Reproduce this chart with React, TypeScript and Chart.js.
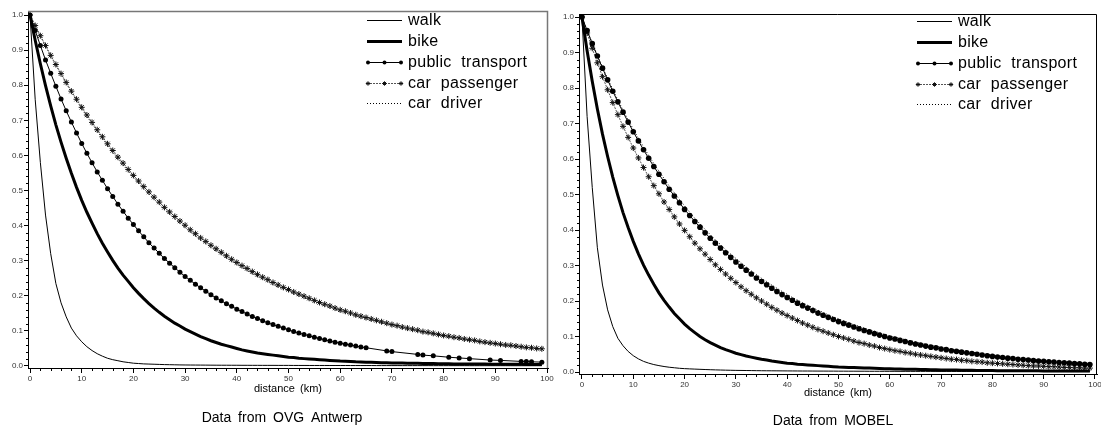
import React, { useEffect, useRef } from "react";
import { Chart, registerables } from "chart.js";

Chart.register(...registerables);

// ---------- data ----------
const KM: number[] = Array.from({ length: 100 }, (_, i) => i); // distance categories 0..99 km

const X_TICKS = [0, 10, 20, 30, 40, 50, 60, 70, 80, 90, 100];
const Y_TICKS = [0, 0.1, 0.2, 0.3, 0.4, 0.5, 0.6, 0.7, 0.8, 0.9, 1.0];

const OVG_WALK = [
  1.000, 0.760, 0.580, 0.430, 0.320, 0.235, 0.180, 0.140, 0.108, 0.086,
  0.069, 0.055, 0.044, 0.035, 0.028, 0.022, 0.018, 0.015, 0.012, 0.010,
  0.008, 0.007, 0.006, 0.0055, 0.005, 0.0045, 0.004, 0.0037, 0.0034, 0.0031,
  0.0029, 0.0028, 0.0027, 0.0026, 0.0025, 0.0024, 0.0023, 0.0022, 0.0022, 0.0021,
  0.0021, 0.0020, 0.0020, 0.0019, 0.0019, 0.0018, 0.0018, 0.0018, 0.0017, 0.0017,
  0.0017, 0.0016, 0.0016, 0.0016, 0.0015, 0.0015, 0.0015, 0.0015, 0.0014, 0.0014,
  0.0014, 0.0014, 0.0013, 0.0013, 0.0013, 0.0013, 0.0013, 0.0012, 0.0012, 0.0012,
  0.0012, 0.0012, 0.0011, 0.0011, 0.0011, 0.0011, 0.0011, 0.0011, 0.0010, 0.0010,
  0.0010, 0.0010, 0.0010, 0.0010, 0.0010, 0.0009, 0.0009, 0.0009, 0.0009, 0.0009,
  0.0009, 0.0009, 0.0009, 0.0008, 0.0008, 0.0008, 0.0008, 0.0008, 0.0008, 0.0008,
];

const OVG_BIKE = [
  1.000, 0.928, 0.861, 0.799, 0.741, 0.687, 0.638, 0.592, 0.549, 0.509,
  0.472, 0.438, 0.407, 0.377, 0.350, 0.325, 0.301, 0.279, 0.259, 0.241,
  0.223, 0.207, 0.192, 0.178, 0.165, 0.153, 0.142, 0.132, 0.122, 0.114,
  0.105, 0.098, 0.091, 0.084, 0.078, 0.072, 0.067, 0.062, 0.058, 0.054,
  0.050, 0.046, 0.043, 0.040, 0.037, 0.035, 0.033, 0.031, 0.029, 0.027,
  0.025, 0.024, 0.022, 0.021, 0.020, 0.019, 0.018, 0.017, 0.016, 0.015,
  0.014, 0.0135, 0.013, 0.012, 0.0115, 0.011, 0.0105, 0.010, 0.0095, 0.009,
  0.0088, 0.0085, 0.0082, 0.008, 0.0077, 0.0075, 0.0072, 0.007, 0.0068, 0.0066,
  0.0064, 0.0062, 0.006, 0.0059, 0.0058, 0.0057, 0.0056, 0.0055, 0.0054, 0.0053,
  0.0052, 0.0051, 0.005, 0.0049, 0.0048, 0.0047, 0.0046, 0.0045, 0.0044, 0.0043,
];

const OVG_PT_KM = [
  0, 1, 2, 3, 4, 5, 6, 7, 8, 9,
  10, 11, 12, 13, 14, 15, 16, 17, 18, 19,
  20, 21, 22, 23, 24, 25, 26, 27, 28, 29,
  30, 31, 32, 33, 34, 35, 36, 37, 38, 39,
  40, 41, 42, 43, 44, 45, 46, 47, 48, 49,
  50, 51, 52, 53, 54, 55, 56, 57, 58, 59,
  60, 61, 62, 63, 64, 65,
  69, 70, 75, 76, 78, 81, 83, 85, 89, 91, 95, 96, 97, 99,
];
const OVG_PT = [
  1.000, 0.956, 0.913, 0.872, 0.834, 0.797, 0.761, 0.727, 0.695, 0.664,
  0.634, 0.606, 0.579, 0.553, 0.529, 0.505, 0.483, 0.461, 0.441, 0.421,
  0.403, 0.385, 0.368, 0.351, 0.336, 0.321, 0.306, 0.293, 0.280, 0.267,
  0.255, 0.244, 0.233, 0.223, 0.213, 0.203, 0.194, 0.186, 0.177, 0.170,
  0.162, 0.155, 0.148, 0.141, 0.135, 0.129, 0.123, 0.118, 0.113, 0.108,
  0.103, 0.098, 0.094, 0.090, 0.086, 0.082, 0.078, 0.075, 0.071, 0.068,
  0.065, 0.062, 0.060, 0.057, 0.054, 0.052,
  0.043, 0.041, 0.033, 0.031, 0.029, 0.025, 0.023, 0.021, 0.017, 0.016, 0.013, 0.013, 0.012, 0.011,
];

const OVG_CP = [
  1.000, 0.970, 0.941, 0.913, 0.885, 0.859, 0.833, 0.808, 0.783, 0.760,
  0.737, 0.715, 0.694, 0.673, 0.653, 0.633, 0.614, 0.595, 0.578, 0.560,
  0.543, 0.527, 0.511, 0.496, 0.481, 0.467, 0.452, 0.439, 0.426, 0.413,
  0.401, 0.388, 0.377, 0.365, 0.355, 0.344, 0.334, 0.324, 0.314, 0.304,
  0.295, 0.286, 0.278, 0.269, 0.261, 0.253, 0.246, 0.238, 0.231, 0.224,
  0.218, 0.211, 0.205, 0.199, 0.193, 0.187, 0.181, 0.176, 0.171, 0.165,
  0.160, 0.156, 0.151, 0.146, 0.142, 0.138, 0.134, 0.130, 0.126, 0.122,
  0.118, 0.115, 0.111, 0.108, 0.105, 0.102, 0.098, 0.096, 0.093, 0.090,
  0.087, 0.085, 0.082, 0.080, 0.077, 0.075, 0.073, 0.070, 0.068, 0.066,
  0.064, 0.062, 0.060, 0.059, 0.057, 0.055, 0.053, 0.052, 0.050, 0.049,
];

const OVG_CD = [
  1.000, 0.970, 0.940, 0.912, 0.883, 0.857, 0.831, 0.805, 0.780, 0.757,
  0.733, 0.711, 0.690, 0.669, 0.648, 0.628, 0.609, 0.590, 0.573, 0.555,
  0.538, 0.522, 0.505, 0.490, 0.475, 0.461, 0.446, 0.433, 0.420, 0.407,
  0.395, 0.382, 0.371, 0.359, 0.349, 0.338, 0.328, 0.318, 0.308, 0.298,
  0.289, 0.280, 0.272, 0.263, 0.255, 0.247, 0.240, 0.232, 0.225, 0.219,
  0.213, 0.206, 0.200, 0.194, 0.188, 0.182, 0.176, 0.171, 0.166, 0.160,
  0.155, 0.151, 0.146, 0.141, 0.137, 0.134, 0.130, 0.126, 0.122, 0.118,
  0.114, 0.111, 0.107, 0.104, 0.101, 0.098, 0.094, 0.092, 0.089, 0.086,
  0.084, 0.082, 0.079, 0.077, 0.074, 0.072, 0.070, 0.067, 0.065, 0.063,
  0.061, 0.059, 0.057, 0.056, 0.054, 0.052, 0.050, 0.049, 0.047, 0.046,
];

const MOBEL_WALK = [
  1.000, 0.720, 0.520, 0.350, 0.245, 0.175, 0.128, 0.095, 0.074, 0.058,
  0.046, 0.037, 0.030, 0.025, 0.021, 0.018, 0.0155, 0.0135, 0.012, 0.0105,
  0.0095, 0.0088, 0.0082, 0.0076, 0.0070, 0.0065, 0.0060, 0.0056, 0.0052, 0.0049,
  0.0046, 0.0044, 0.0042, 0.0040, 0.0038, 0.0036, 0.0035, 0.0034, 0.0033, 0.0032,
  0.0031, 0.0030, 0.0029, 0.0028, 0.0028, 0.0027, 0.0026, 0.0026, 0.0025, 0.0025,
  0.0024, 0.0024, 0.0023, 0.0023, 0.0022, 0.0022, 0.0021, 0.0021, 0.0021, 0.0020,
  0.0020, 0.0020, 0.0019, 0.0019, 0.0019, 0.0018, 0.0018, 0.0018, 0.0018, 0.0017,
  0.0017, 0.0017, 0.0017, 0.0016, 0.0016, 0.0016, 0.0016, 0.0016, 0.0015, 0.0015,
  0.0015, 0.0015, 0.0015, 0.0014, 0.0014, 0.0014, 0.0014, 0.0014, 0.0014, 0.0013,
  0.0013, 0.0013, 0.0013, 0.0013, 0.0013, 0.0012, 0.0012, 0.0012, 0.0012, 0.0012,
];

const MOBEL_BIKE = [
  1.000, 0.905, 0.819, 0.741, 0.670, 0.607, 0.549, 0.497, 0.449, 0.407,
  0.368, 0.333, 0.301, 0.273, 0.247, 0.223, 0.202, 0.183, 0.165, 0.150,
  0.135, 0.122, 0.111, 0.100, 0.091, 0.083, 0.076, 0.069, 0.063, 0.058,
  0.053, 0.049, 0.045, 0.042, 0.039, 0.036, 0.034, 0.031, 0.029, 0.027,
  0.025, 0.024, 0.022, 0.021, 0.020, 0.019, 0.018, 0.017, 0.016, 0.015,
  0.014, 0.0135, 0.013, 0.0125, 0.012, 0.0115, 0.011, 0.0105, 0.010, 0.0095,
  0.0090, 0.0087, 0.0084, 0.0081, 0.0078, 0.0075, 0.0072, 0.0069, 0.0066, 0.0063,
  0.0060, 0.0058, 0.0056, 0.0054, 0.0052, 0.0050, 0.0048, 0.0046, 0.0044, 0.0042,
  0.0040, 0.0039, 0.0038, 0.0037, 0.0036, 0.0035, 0.0034, 0.0034, 0.0033, 0.0033,
  0.0032, 0.0032, 0.0031, 0.0031, 0.0031, 0.0030, 0.0030, 0.0030, 0.0030, 0.0030,
];

const MOBEL_PT = [
  1.000, 0.962, 0.925, 0.890, 0.856, 0.823, 0.791, 0.761, 0.732, 0.704,
  0.677, 0.651, 0.626, 0.602, 0.579, 0.557, 0.536, 0.515, 0.496, 0.477,
  0.458, 0.441, 0.424, 0.408, 0.392, 0.377, 0.363, 0.349, 0.336, 0.323,
  0.310, 0.298, 0.287, 0.276, 0.265, 0.255, 0.246, 0.236, 0.227, 0.218,
  0.210, 0.202, 0.194, 0.187, 0.180, 0.173, 0.166, 0.160, 0.154, 0.148,
  0.142, 0.137, 0.132, 0.127, 0.122, 0.117, 0.113, 0.108, 0.104, 0.100,
  0.096, 0.093, 0.089, 0.086, 0.082, 0.079, 0.076, 0.073, 0.070, 0.068,
  0.065, 0.063, 0.060, 0.058, 0.056, 0.054, 0.052, 0.050, 0.048, 0.046,
  0.044, 0.042, 0.041, 0.039, 0.038, 0.036, 0.035, 0.034, 0.032, 0.031,
  0.030, 0.029, 0.028, 0.027, 0.026, 0.025, 0.024, 0.023, 0.022, 0.021,
];

const MOBEL_CP = [
  1.000, 0.955, 0.912, 0.871, 0.832, 0.795, 0.759, 0.725, 0.692, 0.661,
  0.631, 0.603, 0.576, 0.550, 0.525, 0.502, 0.479, 0.458, 0.437, 0.417,
  0.399, 0.381, 0.363, 0.347, 0.332, 0.317, 0.302, 0.289, 0.276, 0.264,
  0.252, 0.240, 0.229, 0.219, 0.209, 0.200, 0.191, 0.182, 0.174, 0.166,
  0.159, 0.152, 0.145, 0.138, 0.132, 0.126, 0.120, 0.115, 0.110, 0.105,
  0.100, 0.096, 0.092, 0.087, 0.083, 0.080, 0.076, 0.073, 0.069, 0.066,
  0.063, 0.060, 0.058, 0.055, 0.053, 0.050, 0.048, 0.046, 0.044, 0.042,
  0.040, 0.038, 0.036, 0.035, 0.033, 0.032, 0.030, 0.029, 0.028, 0.026,
  0.025, 0.024, 0.023, 0.022, 0.021, 0.020, 0.019, 0.018, 0.017, 0.017,
  0.016, 0.015, 0.015, 0.014, 0.013, 0.013, 0.012, 0.012, 0.011, 0.011,
];

const MOBEL_CD = [
  1.000, 0.963, 0.927, 0.892, 0.859, 0.827, 0.796, 0.766, 0.738, 0.710,
  0.684, 0.658, 0.634, 0.610, 0.587, 0.566, 0.545, 0.524, 0.505, 0.486,
  0.468, 0.450, 0.433, 0.417, 0.402, 0.387, 0.372, 0.359, 0.345, 0.332,
  0.320, 0.308, 0.296, 0.285, 0.275, 0.264, 0.255, 0.245, 0.236, 0.227,
  0.219, 0.210, 0.203, 0.195, 0.188, 0.181, 0.174, 0.168, 0.161, 0.155,
  0.150, 0.144, 0.139, 0.133, 0.129, 0.124, 0.119, 0.115, 0.110, 0.106,
  0.102, 0.098, 0.095, 0.091, 0.088, 0.085, 0.081, 0.078, 0.075, 0.073,
  0.070, 0.067, 0.065, 0.062, 0.060, 0.058, 0.056, 0.054, 0.052, 0.050,
  0.048, 0.046, 0.044, 0.043, 0.041, 0.039, 0.038, 0.037, 0.035, 0.034,
  0.033, 0.031, 0.030, 0.029, 0.028, 0.027, 0.026, 0.025, 0.024, 0.023,
];

const LABELS = ["walk", "bike", "public transport", "car passenger", "car driver"];

// ---------- styling ----------
const FONT = '"Liberation Sans", Arial, Helvetica, sans-serif';

type Kind = "walk" | "bike" | "pt" | "cp" | "cd";
const KINDS: Kind[] = ["walk", "bike", "pt", "cp", "cd"];

interface Series { label: string; kind: Kind; xs: number[]; ys: number[] }
interface PanelCfg {
  left: number; width: number; height: number;
  area: { l: number; r: number; t: number; b: number };
  xMin: number; xMax: number; yMin: number; yMax: number;
  series: Series[];
  caption: string; captionX: number; captionY: number; titleY: number;
  legend: { x0: number; x1: number; textX: number; rows: number[] };
  frameColor: string; frameWidth: number; ptRadius: number; tickLabelPad: number;
}

function makeSeries(ys: number[][], xsList: number[][]): Series[] {
  return KINDS.map((k, i) => ({ label: LABELS[i], kind: k, xs: xsList[i], ys: ys[i] }));
}

const LEFT: PanelCfg = {
  left: 0, width: 566, height: 437,
  area: { l: 28, r: 548, t: 11, b: 368 },
  xMin: -0.39, xMax: 100.19, yMin: -0.0057, yMax: 1.0114,
  series: makeSeries([OVG_WALK, OVG_BIKE, OVG_PT, OVG_CP, OVG_CD], [KM, KM, OVG_PT_KM, KM, KM]),
  caption: "Data from OVG Antwerp", captionX: 282, captionY: 418, titleY: 389,
  legend: { x0: 367, x1: 402, textX: 408, rows: [20, 41, 62, 83, 103] },
  frameColor: "#777", frameWidth: 1.5, ptRadius: 2.5, tickLabelPad: 1,
};

const RIGHT: PanelCfg = {
  left: 553, width: 560, height: 437,
  area: { l: 26, r: 544, t: 14, b: 374 },
  xMin: -0.58, xMax: 100.39, yMin: -0.0056, yMax: 1.0085,
  series: makeSeries([MOBEL_WALK, MOBEL_BIKE, MOBEL_PT, MOBEL_CP, MOBEL_CD], [KM, KM, KM, KM, KM]),
  caption: "Data from MOBEL", captionX: 280, captionY: 421, titleY: 393,
  legend: { x0: 364, x1: 399, textX: 405, rows: [21, 42, 63, 84, 104] },
  frameColor: "#000", frameWidth: 1, ptRadius: 2.8, tickLabelPad: 1,
};

const X_MINOR: number[] = [];
for (let v = 2; v < 100; v += 2) if (v % 10 !== 0) X_MINOR.push(v);
const Y_MINOR: number[] = [];
for (let i = 1; i < 50; i++) if (i % 5 !== 0) Y_MINOR.push(i / 50);

function datasetStyle(kind: Kind, ptRadius: number): any {
  switch (kind) {
    case "walk":
      return { borderColor: "#000", borderWidth: 1, pointRadius: 0 };
    case "bike":
      return { borderColor: "#000", borderWidth: 3, pointRadius: 0 };
    case "pt":
      return {
        borderColor: "#000", borderWidth: 1, pointStyle: "circle", pointRadius: ptRadius,
        pointBackgroundColor: "#000", pointBorderColor: "#000", pointBorderWidth: 0,
      };
    case "cp":
      return {
        borderColor: "#555", borderWidth: 1, borderDash: [2, 1], pointStyle: "star", pointRadius: 3,
        pointBorderColor: "#111", pointBackgroundColor: "#111", pointBorderWidth: 1,
      };
    case "cd":
      return { borderColor: "#000", borderWidth: 1, borderDash: [1, 2], pointRadius: 0 };
  }
}

function drawStar(ctx: CanvasRenderingContext2D, x: number, y: number, r: number) {
  ctx.beginPath();
  for (let k = 0; k < 4; k++) {
    const a = (k * Math.PI) / 4;
    ctx.moveTo(x - r * Math.cos(a), y - r * Math.sin(a));
    ctx.lineTo(x + r * Math.cos(a), y + r * Math.sin(a));
  }
  ctx.stroke();
}

function Panel({ cfg }: { cfg: PanelCfg }) {
  const ref = useRef<HTMLCanvasElement | null>(null);

  useEffect(() => {
    if (!ref.current) return;
    const deco = {
      id: "deco",
      afterDraw(chart: any) {
        const { ctx, chartArea: a, scales } = chart;
        const xs = scales.x;
        const ys = scales.y;
        ctx.save();
        // frame (top + right)
        ctx.strokeStyle = cfg.frameColor;
        ctx.lineWidth = cfg.frameWidth;
        ctx.setLineDash([]);
        ctx.beginPath();
        ctx.moveTo(a.left, a.top + 0.5);
        ctx.lineTo(a.right - 0.5, a.top + 0.5);
        ctx.lineTo(a.right - 0.5, a.bottom);
        ctx.stroke();
        // minor ticks
        ctx.strokeStyle = "#000";
        ctx.lineWidth = 1;
        ctx.beginPath();
        for (const v of X_MINOR) {
          const px = Math.round(xs.getPixelForValue(v)) + 0.5;
          ctx.moveTo(px, a.bottom);
          ctx.lineTo(px, a.bottom + 3);
        }
        for (const v of Y_MINOR) {
          const py = Math.round(ys.getPixelForValue(v)) + 0.5;
          ctx.moveTo(a.left, py);
          ctx.lineTo(a.left - 2, py);
        }
        ctx.stroke();
        // legend
        const L = cfg.legend;
        const mid = (L.x0 + L.x1) / 2;
        cfg.series.forEach((s, i) => {
          const y = L.rows[i] + 0.5;
          ctx.save();
          ctx.strokeStyle = "#000";
          ctx.fillStyle = "#000";
          ctx.lineWidth = s.kind === "bike" ? 3 : 1;
          if (s.kind === "cp") { ctx.setLineDash([2, 1]); ctx.strokeStyle = "#555"; }
          if (s.kind === "cd") ctx.setLineDash([1, 2]);
          ctx.beginPath();
          ctx.moveTo(L.x0, y);
          ctx.lineTo(L.x1, y);
          ctx.stroke();
          ctx.setLineDash([]);
          if (s.kind === "pt") {
            for (const px of [L.x0 + 1, mid, L.x1 - 1]) {
              ctx.beginPath();
              ctx.arc(px, y, 2, 0, Math.PI * 2);
              ctx.fill();
            }
          }
          if (s.kind === "cp") {
            ctx.strokeStyle = "#111";
            for (const px of [L.x0 + 1, mid, L.x1 - 1]) drawStar(ctx, px, y, 2.2);
          }
          ctx.restore();
          ctx.fillStyle = "#000";
          ctx.font = `16px ${FONT}`;
          ctx.textAlign = "left";
          ctx.textBaseline = "middle";
          (ctx as any).wordSpacing = "5px";
          (ctx as any).letterSpacing = "0.3px";
          ctx.fillText(s.label, L.textX, y);
          (ctx as any).wordSpacing = "0px";
          (ctx as any).letterSpacing = "0px";
        });
        // titles
        ctx.fillStyle = "#000";
        ctx.textAlign = "center";
        ctx.textBaseline = "middle";
        ctx.font = `11px ${FONT}`;
        (ctx as any).wordSpacing = "2px";
        ctx.fillText("distance (km)", (a.left + a.right) / 2, cfg.titleY);
        ctx.font = `14px ${FONT}`;
        (ctx as any).wordSpacing = "3px";
        ctx.fillText(cfg.caption, cfg.captionX, cfg.captionY);
        (ctx as any).wordSpacing = "0px";
        ctx.restore();
      },
    };

    const chart = new Chart(ref.current, {
      type: "line",
      data: {
        datasets: cfg.series.map((s) => ({
          label: s.label,
          data: s.xs.map((x, i) => ({ x, y: s.ys[i] })),
          fill: false,
          tension: 0,
          ...datasetStyle(s.kind, cfg.ptRadius),
        })),
      },
      options: {
        animation: false,
        responsive: false,
        events: [],
        layout: { padding: { left: 0, top: cfg.area.t, right: cfg.width - cfg.area.r, bottom: 0 } },
        plugins: { legend: { display: false }, tooltip: { enabled: false }, title: { display: false } },
        scales: {
          x: {
            type: "linear",
            min: cfg.xMin,
            max: cfg.xMax,
            afterFit: (s: any) => { s.height = cfg.height - cfg.area.b; },
            afterBuildTicks: (s: any) => { s.ticks = X_TICKS.map((v) => ({ value: v })); },
            grid: { display: true, drawOnChartArea: false, drawTicks: true, tickLength: 5, tickColor: "#000", tickWidth: 1 },
            border: { display: true, color: "#000", width: 1 },
            ticks: {
              autoSkip: false, maxRotation: 0, padding: cfg.tickLabelPad, color: "#333",
              font: { family: FONT, size: 8 },
              callback: (v: any) => String(v),
            },
          },
          y: {
            type: "linear",
            min: cfg.yMin,
            max: cfg.yMax,
            afterFit: (s: any) => { s.width = cfg.area.l; },
            afterBuildTicks: (s: any) => { s.ticks = Y_TICKS.map((v) => ({ value: v })); },
            grid: { display: true, drawOnChartArea: false, drawTicks: true, tickLength: 4, tickColor: "#000", tickWidth: 1 },
            border: { display: true, color: "#000", width: 1 },
            ticks: {
              padding: 1, color: "#333",
              font: { family: FONT, size: 8 },
              callback: (v: any) => Number(v).toFixed(1),
            },
          },
        },
      } as any,
      plugins: [deco],
    });
    return () => chart.destroy();
  }, [cfg]);

  return (
    <canvas
      ref={ref}
      width={cfg.width}
      height={cfg.height}
      style={{ position: "absolute", left: cfg.left, top: 0, width: cfg.width, height: cfg.height }}
    />
  );
}

export default function App() {
  return (
    <div style={{ position: "fixed", left: 0, top: 0, width: 1101, height: 437, overflow: "hidden", background: "#fff" }}>
      <Panel cfg={LEFT} />
      <Panel cfg={RIGHT} />
    </div>
  );
}
